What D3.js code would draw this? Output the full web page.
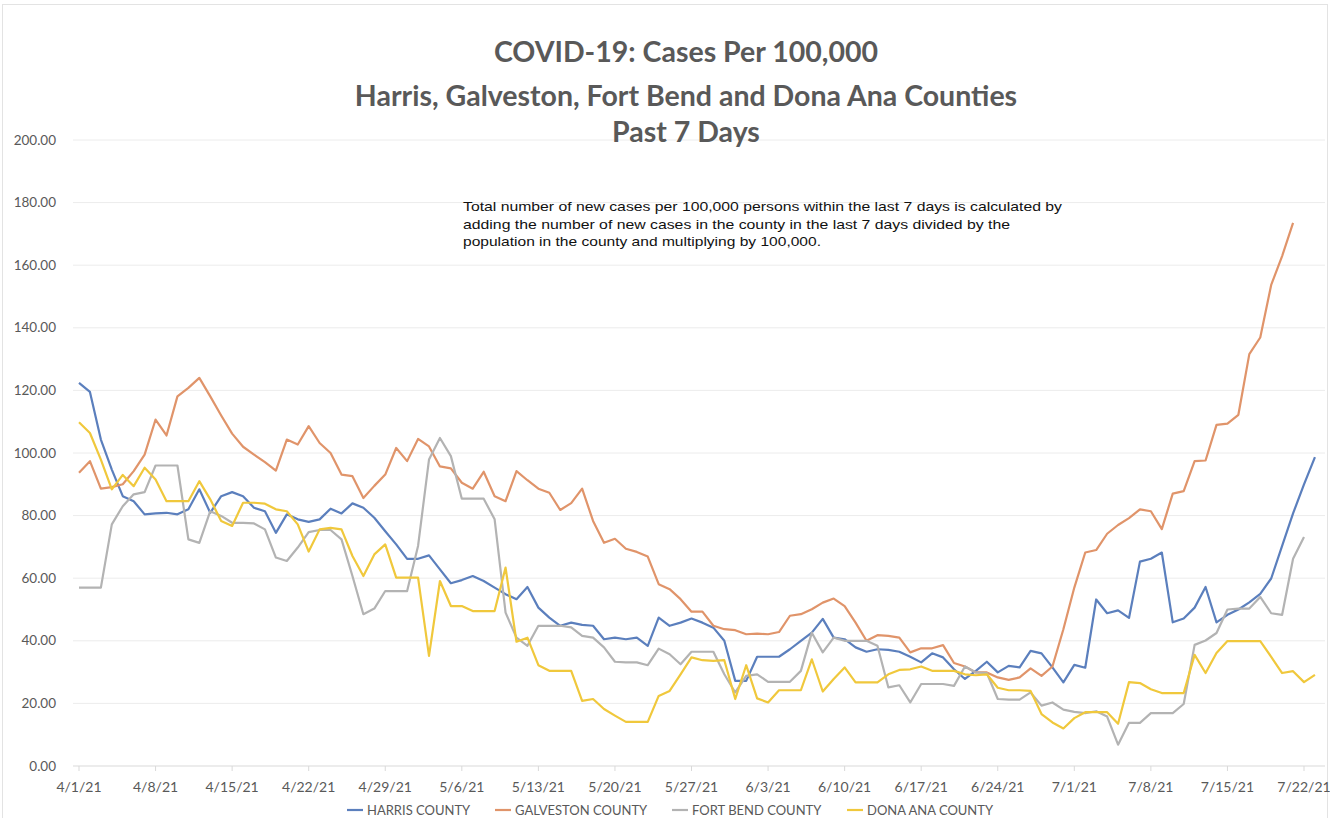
<!DOCTYPE html>
<html>
<head>
<meta charset="utf-8">
<script src="https://cdn.jsdelivr.net/npm/d3@7"></script>
<style>
  body { margin: 0; background: #fff; }
  svg { display: block; }
</style>
</head>
<body>
<svg id="chart" width="1330" height="818"></svg>
<script>
// data, one value per day starting 4/1/21
const startDate = "4/1/21";

const harris = [122.4, 119.5, 104.3, 94.7, 86.2, 84.6, 80.4, 80.7, 80.9, 80.4,
  82, 88.4, 80.9, 86.2, 87.5, 86.2, 82.5, 81.4, 74.5, 80.4,
  78.8, 78, 78.8, 82.2, 80.7, 83.9, 82.5, 79.3, 75, 70.8,
  66.2, 66.2, 67.3, 62.8, 58.4, 59.4, 60.7, 59.1, 57, 54.9,
  53.3, 57.2, 50.6, 47.4, 44.8, 45.8, 45.1, 44.8, 40.5, 41,
  40.5, 41, 38.4, 47.4, 44.8, 45.8, 47.1, 45.8, 44.2, 40,
  27.2, 27.2, 34.9, 34.9, 34.9, 37.3, 40, 42.6, 47, 41,
  40.5, 37.9, 36.5, 37.3, 37.1, 36.5, 34.9, 33.1, 36, 34.7,
  30.9, 27.8, 30.4, 33.3, 29.9, 32, 31.5, 36.8, 36, 31.5,
  26.7, 32.3, 31.4, 53.2, 48.8, 49.7, 47.3, 65.3, 66.2, 68.2,
  45.9, 47.1, 50.6, 57.2, 45.9, 48.3, 50, 52.3, 55, 59.9,
  70.3, 80.7, 90, 98.7];

const galveston = [93.7, 97.4, 88.6, 89.1, 90, 94.2, 99.5, 110.7, 105.6, 118.1,
  120.8, 124, 118.1, 112, 106.2, 102, 99.5, 97.1, 94.4, 104.3,
  102.7, 108.6, 103.2, 100, 93.1, 92.6, 85.6, 89.5, 93.1, 101.6,
  97.4, 104.5, 102.1, 95.7, 95.1, 90.5, 88.6, 94, 86.2, 84.6,
  94.2, 91.3, 88.6, 87.3, 81.8, 84, 88.6, 78.3, 71.3, 72.6,
  69.4, 68.4, 66.9, 58.1, 56.5, 53.3, 49.3, 49.3, 44.8, 43.7,
  43.4, 42.1, 42.3, 42.1, 42.8, 48, 48.5, 50.1, 52.2, 53.5,
  51.1, 45.8, 40, 41.8, 41.6, 41, 36.3, 37.6, 37.6, 38.6,
  32.9, 31.8, 29.9, 29.9, 28.3, 27.5, 28.3, 31.2, 28.8, 31.8,
  43.7, 57, 68.2, 69, 74.2, 77, 79.2, 82, 81.4, 75.7,
  87, 87.8, 97.4, 97.6, 109, 109.4, 112.2, 131.6, 136.9, 153.7,
  162.9, 173.5];

const fortBend = [57, 57, 57, 77.2, 83, 86.8, 87.5, 96, 96, 96,
  72.4, 71.3, 81.4, 79.9, 77.7, 77.7, 77.5, 75.6, 66.6, 65.5,
  69.8, 74.7, 75.4, 75.4, 72.4, 60.7, 48.5, 50.3, 55.9, 55.9,
  55.9, 70.3, 97.9, 104.8, 99, 85.4, 85.4, 85.4, 78.8, 49,
  41, 38.4, 44.8, 44.8, 44.8, 44.3, 41.6, 41, 37.9, 33.3,
  33.1, 33.1, 32.2, 37.5, 35.7, 32.5, 36.5, 36.5, 36.5, 29.3,
  23.5, 28.8, 29.3, 26.9, 26.9, 26.9, 30.4, 42.6, 36.3, 41,
  40, 40, 40, 38.4, 25.1, 25.8, 20.3, 26.2, 26.2, 26.2,
  25.6, 31.8, 29.9, 29.7, 21.4, 21.2, 21.2, 23.5, 19.3, 20.3,
  18, 17.3, 16.9, 17.5, 15.8, 6.8, 13.8, 13.8, 16.9, 16.9,
  16.9, 19.8, 38.7, 40.1, 42.5, 50, 50.3, 50.3, 54, 48.8,
  48.3, 66.2, 73.2];

const donaAna = [109.8, 106.4, 97.9, 88.4, 93, 89.4, 95.3, 91.5, 84.6, 84.6,
  84.6, 91, 85.2, 78.3, 76.7, 84.1, 84.1, 83.8, 82, 81.4,
  77.2, 68.5, 75.6, 76.1, 75.6, 67.1, 60.7, 67.6, 70.8, 60.2,
  60.2, 60.2, 35.2, 59.1, 51.1, 51.1, 49.5, 49.5, 49.5, 63.4,
  39.7, 41, 32.2, 30.4, 30.4, 30.4, 20.8, 21.4, 18.2, 16.1,
  14.1, 14.1, 14.1, 22.4, 24, 29.3, 34.7, 33.8, 33.6, 33.8,
  21.4, 32.2, 21.6, 20.3, 24.2, 24.2, 24.2, 34.1, 23.8, 27.8,
  31.5, 26.7, 26.7, 26.7, 29.3, 30.7, 30.9, 31.8, 30.4, 30.4,
  30.4, 29.3, 29, 29.3, 25, 24.2, 24.2, 24, 16.6, 13.9,
  12, 15.3, 17.2, 17.2, 17.2, 13.5, 26.8, 26.5, 24.5, 23.3,
  23.3, 23.3, 35.5, 29.7, 36.1, 39.9, 39.9, 39.9, 39.9, 34.9,
  29.7, 30.3, 26.8, 29.1];

const seriesNames = ["HARRIS COUNTY", "GALVESTON COUNTY", "FORT BEND COUNTY", "DONA ANA COUNTY"];
const seriesColors = ["#5b7fbd", "#e0946a", "#b3b3b3", "#f0c83c"];
const xTickLabels = ["4/1/21", "4/8/21", "4/15/21", "4/22/21", "4/29/21", "5/6/21", "5/13/21",
  "5/20/21", "5/27/21", "6/3/21", "6/10/21", "6/17/21", "6/24/21", "7/1/21", "7/8/21",
  "7/15/21", "7/22/21"];
const yTicks = [0, 20, 40, 60, 80, 100, 120, 140, 160, 180, 200];

const titleLines = ["COVID-19: Cases Per 100,000",
  "Harris, Galveston, Fort Bend and Dona Ana Counties",
  "Past 7 Days"];
const noteLines = ["Total number of new cases per 100,000 persons within the last 7 days is calculated by",
  "adding the number of new cases in the county in the last 7 days divided by the",
  "population in the county and multiplying by 100,000."];
// widths of the note lines as they appear in the picture
const noteWidths = [599, 547, 358];

const parse = d3.timeParse("%m/%d/%y");
const day0 = parse(startDate);
const toPoints = arr => arr.map((v, i) => ({ date: d3.timeDay.offset(day0, i), value: v }));
const allSeries = [harris, galveston, fortBend, donaAna].map(toPoints);

const svg = d3.select("#chart");

// outer frame
svg.append("rect")
  .attr("x", 2.5).attr("y", 4.5)
  .attr("width", 1325).attr("height", 840)
  .attr("fill", "none")
  .attr("stroke", "#e3e3e3");

const x = d3.scaleTime()
  .domain([parse("4/1/21"), parse("7/22/21")])
  .range([79, 1304]);

const y = d3.scaleLinear()
  .domain([0, 200])
  .range([766, 140]);

const gridLeft = 73, gridRight = 1325;

// gridlines
svg.append("g")
  .selectAll("line")
  .data(yTicks)
  .join("line")
  .attr("x1", gridLeft).attr("x2", gridRight)
  .attr("y1", d => y(d)).attr("y2", d => y(d))
  .attr("stroke", d => d === 0 ? "#d9d9d9" : "#ececec")
  .attr("stroke-width", 1);

// y labels
svg.append("g")
  .selectAll("text")
  .data(yTicks)
  .join("text")
  .attr("x", 56)
  .attr("y", d => y(d) + 4.5)
  .attr("text-anchor", "end")
  .attr("font-family", "Lato, 'Open Sans', sans-serif")
  .attr("font-size", 13.5)
  .attr("fill", "#595959")
  .text(d => d3.format(".2f")(d));

// x axis ticks + labels
const xAxis = svg.append("g");
xAxis.selectAll("line")
  .data(xTickLabels)
  .join("line")
  .attr("x1", d => x(parse(d))).attr("x2", d => x(parse(d)))
  .attr("y1", 766).attr("y2", 771)
  .attr("stroke", "#d9d9d9");
xAxis.selectAll("text")
  .data(xTickLabels)
  .join("text")
  .attr("x", d => x(parse(d)))
  .attr("y", 792)
  .attr("text-anchor", "middle")
  .attr("font-family", "Lato, 'Open Sans', sans-serif")
  .attr("font-size", 14)
  .attr("fill", "#595959")
  .text(d => d);

// lines
const line = d3.line()
  .x(d => x(d.date))
  .y(d => y(d.value));

svg.append("g")
  .selectAll("path")
  .data(allSeries)
  .join("path")
  .attr("d", line)
  .attr("fill", "none")
  .attr("stroke", (d, i) => seriesColors[i])
  .attr("stroke-width", 2.2)
  .attr("stroke-linejoin", "round");

// title
svg.append("g")
  .selectAll("text")
  .data(titleLines)
  .join("text")
  .attr("x", 686)
  .attr("y", (d, i) => [62, 106, 142][i])
  .attr("text-anchor", "middle")
  .attr("font-family", "Lato, 'Open Sans', sans-serif")
  .attr("font-weight", "bold")
  .attr("font-size", 28.5)
  .attr("fill", "#595959")
  .text(d => d);

// note
svg.append("g")
  .selectAll("text")
  .data(noteLines)
  .join("text")
  .attr("x", 463)
  .attr("y", (d, i) => 211 + i * 17.5)
  .attr("font-family", "'Liberation Sans', Arial, sans-serif")
  .attr("font-size", 13)
  .attr("textLength", (d, i) => noteWidths[i])
  .attr("lengthAdjust", "spacingAndGlyphs")
  .attr("fill", "#111")
  .text(d => d);

// legend
const legendX = [347, 495, 672, 847];
const legend = svg.append("g");
seriesNames.forEach((name, i) => {
  legend.append("line")
    .attr("x1", legendX[i]).attr("x2", legendX[i] + 16)
    .attr("y1", 810).attr("y2", 810)
    .attr("stroke", seriesColors[i])
    .attr("stroke-width", 2.2);
  legend.append("text")
    .attr("x", legendX[i] + 20)
    .attr("y", 815)
    .attr("font-family", "Lato, 'Open Sans', sans-serif")
    .attr("font-size", 13)
    .attr("fill", "#595959")
    .text(name);
});
</script>
</body>
</html>
